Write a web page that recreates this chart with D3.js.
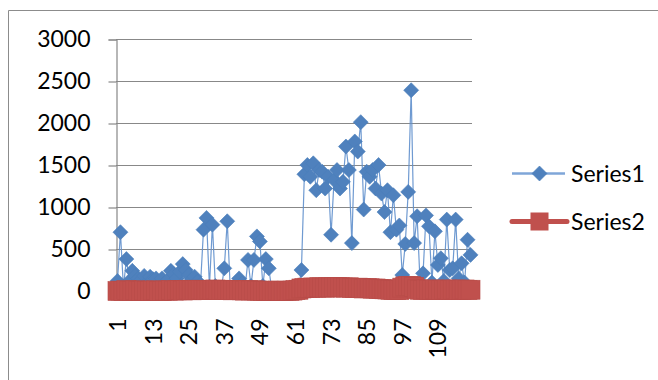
<!DOCTYPE html>
<html>
<head>
<meta charset="utf-8">
<script src="https://cdn.jsdelivr.net/npm/d3@7"></script>
<style>
  html, body { margin: 0; padding: 0; background: #ffffff; }
  svg { display: block; }
  text { font-family: Lato, "Liberation Sans", Arial, sans-serif; fill: #000; }
</style>
</head>
<body>
<svg id="chart" width="658" height="380"></svg>
<script>
// Category numbers 1..120
const categories = d3.range(1, 121);

// Series1 values, one per category
const series1 = [
  120, 700, 40, 380, 120, 240, 180, 150, 130, 180,
  100, 170, 140, 150, 90, 150, 100, 130, 240, 200,
  150, 230, 320, 250, 190, 130, 170, 110, 80, 730,
  870, 50, 790, 60, 40, 30, 270, 830, 40, 30,
  60, 150, 90, 40, 370, 60, 370, 650, 590, 60,
  380, 270, 20, 10, 0, 5, 0, 10, 5, 0,
  10, 20, 250, 1390, 1500, 1360, 1520, 1200, 1440, 1420,
  1220, 1360, 670, 1320, 1440, 1220, 1300, 1720, 1440, 570,
  1780, 1660, 2010, 970, 1420, 1360, 1440, 1220, 1500, 1160,
  940, 1200, 700, 1140, 730, 780, 190, 560, 1180, 2390,
  570, 890, 100, 210, 900, 770, 100, 710, 310, 390,
  120, 850, 250, 270, 850, 150, 330, 100, 610, 430
];

// Series2 values, one per category
const series2 = [
  0, 5, 0, 10, 5, 0, 8, 4, 0, 6,
  3, 0, 5, 8, 2, 0, 6, 4, 10, 5,
  8, 12, 6, 10, 15, 8, 12, 10, 15, 12,
  10, 15, 12, 18, 14, 10, 15, 12, 10, 8,
  12, 10, 8, 5, 10, 6, 8, 5, 4, 2,
  0, 4, 2, 0, 5, 3, 0, 4, 2, 5,
  10, 15, 30, 35, 40, 38, 42, 40, 45, 42,
  40, 44, 42, 45, 48, 45, 42, 40, 44, 38,
  35, 40, 36, 30, 34, 32, 28, 30, 26, 22,
  20, 18, 15, 12, 10, 12, 40, 55, 60, 58,
  50, 20, 15, 12, 18, 15, 12, 18, 15, 12,
  15, 18, 12, 15, 18, 12, 15, 18, 12, 15
];

const yTicks = [0, 500, 1000, 1500, 2000, 2500, 3000];
const xTickLabels = [1, 13, 25, 37, 49, 61, 73, 85, 97, 109];

const seriesNames = ["Series1", "Series2"];
const blue = "#4F81BD";
const red = "#C0504D";
const gridColor = "#888888";
const fontFamily = "Lato, 'Liberation Sans', Arial, sans-serif";
const fontSize = 23;

const svg = d3.select("#chart");

// Chart frame
svg.append("path")
  .attr("d", "M8.5,381 L8.5,10.5 L660,10.5")
  .attr("fill", "none")
  .attr("stroke", "#8c8c8c")
  .attr("stroke-width", 1);

const plot = { left: 116, right: 472, top: 39, bottom: 291 };

const x = d3.scalePoint()
  .domain(categories)
  .range([plot.left, plot.right])
  .padding(0.5);

const y = d3.scaleLinear()
  .domain([0, 3000])
  .range([plot.bottom, plot.top]);

// Horizontal gridlines
svg.append("g")
  .selectAll("line")
  .data(yTicks)
  .join("line")
  .attr("x1", plot.left)
  .attr("x2", plot.right)
  .attr("y1", d => Math.round(y(d)) + 0.5)
  .attr("y2", d => Math.round(y(d)) + 0.5)
  .attr("stroke", gridColor)
  .attr("stroke-width", 1.2);

// Value axis
const yAxis = svg.append("g")
  .attr("transform", `translate(${plot.left + 0.5},0.5)`)
  .call(d3.axisLeft(y).tickValues(yTicks).tickSize(8).tickPadding(18).tickFormat(d3.format("d")));
yAxis.select(".domain").attr("stroke", gridColor).attr("stroke-width", 1.2);
yAxis.selectAll(".tick line").attr("stroke", gridColor).attr("stroke-width", 1.2);
yAxis.selectAll(".tick text")
  .attr("font-size", fontSize)
  .attr("font-family", fontFamily)
  .attr("fill", "#000");

// Category axis
const xAxis = svg.append("g")
  .attr("transform", `translate(0,${plot.bottom + 0.5})`)
  .call(d3.axisBottom(x).tickValues(xTickLabels).tickSize(0).tickSizeOuter(0));
xAxis.select(".domain").attr("stroke", gridColor).attr("stroke-width", 1.2);
xAxis.selectAll(".tick text")
  .attr("font-size", fontSize)
  .attr("font-family", fontFamily)
  .attr("fill", "#000")
  .attr("text-anchor", "end")
  .attr("x", 0)
  .attr("y", 0)
  .attr("dy", "0.35em")
  .attr("transform", "translate(0,27) rotate(-90)");

const idx = d3.range(categories.length);

// Series1: thin line with diamond markers
const line1 = d3.line()
  .x(i => x(categories[i]))
  .y(i => y(series1[i]));

svg.append("path")
  .datum(idx)
  .attr("d", line1)
  .attr("fill", "none")
  .attr("stroke", "#5f8fcc")
  .attr("stroke-width", 1.2)
  .attr("stroke-opacity", 0.9)
  .attr("stroke-linejoin", "round");

const diamond = r => `M0,${-r}L${r},0L0,${r}L${-r},0Z`;

svg.append("g")
  .selectAll("path")
  .data(idx)
  .join("path")
  .attr("transform", i => `translate(${x(categories[i])},${y(series1[i])})`)
  .attr("d", diamond(7.5))
  .attr("fill", blue)
  .attr("stroke", "#4A7EBB")
  .attr("stroke-width", 0.6);

// Series2: thick line with square markers
const line2 = d3.line()
  .x(i => x(categories[i]))
  .y(i => y(series2[i]));

svg.append("path")
  .datum(idx)
  .attr("d", line2)
  .attr("fill", "none")
  .attr("stroke", red)
  .attr("stroke-width", 4)
  .attr("stroke-linejoin", "round");

const sq = 19;
svg.append("g")
  .selectAll("rect")
  .data(idx)
  .join("rect")
  .attr("x", i => x(categories[i]) - sq / 2)
  .attr("y", i => y(series2[i]) - sq / 2)
  .attr("width", sq)
  .attr("height", sq)
  .attr("fill", red)
  .attr("stroke", "#B84C49")
  .attr("stroke-width", 0.6);

// Legend
const legend = svg.append("g");
const legendRows = [
  { name: seriesNames[0], y: 173.5 },
  { name: seriesNames[1], y: 221.5 }
];

// Series1 entry
legend.append("line")
  .attr("x1", 512).attr("x2", 565)
  .attr("y1", legendRows[0].y).attr("y2", legendRows[0].y)
  .attr("stroke", "#7fa6d8")
  .attr("stroke-width", 2.5);
legend.append("path")
  .attr("transform", `translate(539.5,${legendRows[0].y})`)
  .attr("d", diamond(7.5))
  .attr("fill", blue)
  .attr("stroke", "#4A7EBB")
  .attr("stroke-width", 0.6);
legend.append("text")
  .attr("x", 571)
  .attr("y", legendRows[0].y)
  .attr("dy", "0.35em")
  .attr("font-size", fontSize)
  .attr("font-family", fontFamily)
  .text(legendRows[0].name);

// Series2 entry
legend.append("line")
  .attr("x1", 512).attr("x2", 567)
  .attr("y1", legendRows[1].y).attr("y2", legendRows[1].y)
  .attr("stroke", red)
  .attr("stroke-width", 5)
  .attr("stroke-linecap", "round");
legend.append("rect")
  .attr("x", 539.5 - 9)
  .attr("y", legendRows[1].y - 9)
  .attr("width", 18)
  .attr("height", 18)
  .attr("fill", red);
legend.append("text")
  .attr("x", 571)
  .attr("y", legendRows[1].y)
  .attr("dy", "0.35em")
  .attr("font-size", fontSize)
  .attr("font-family", fontFamily)
  .text(legendRows[1].name);
</script>
</body>
</html>
